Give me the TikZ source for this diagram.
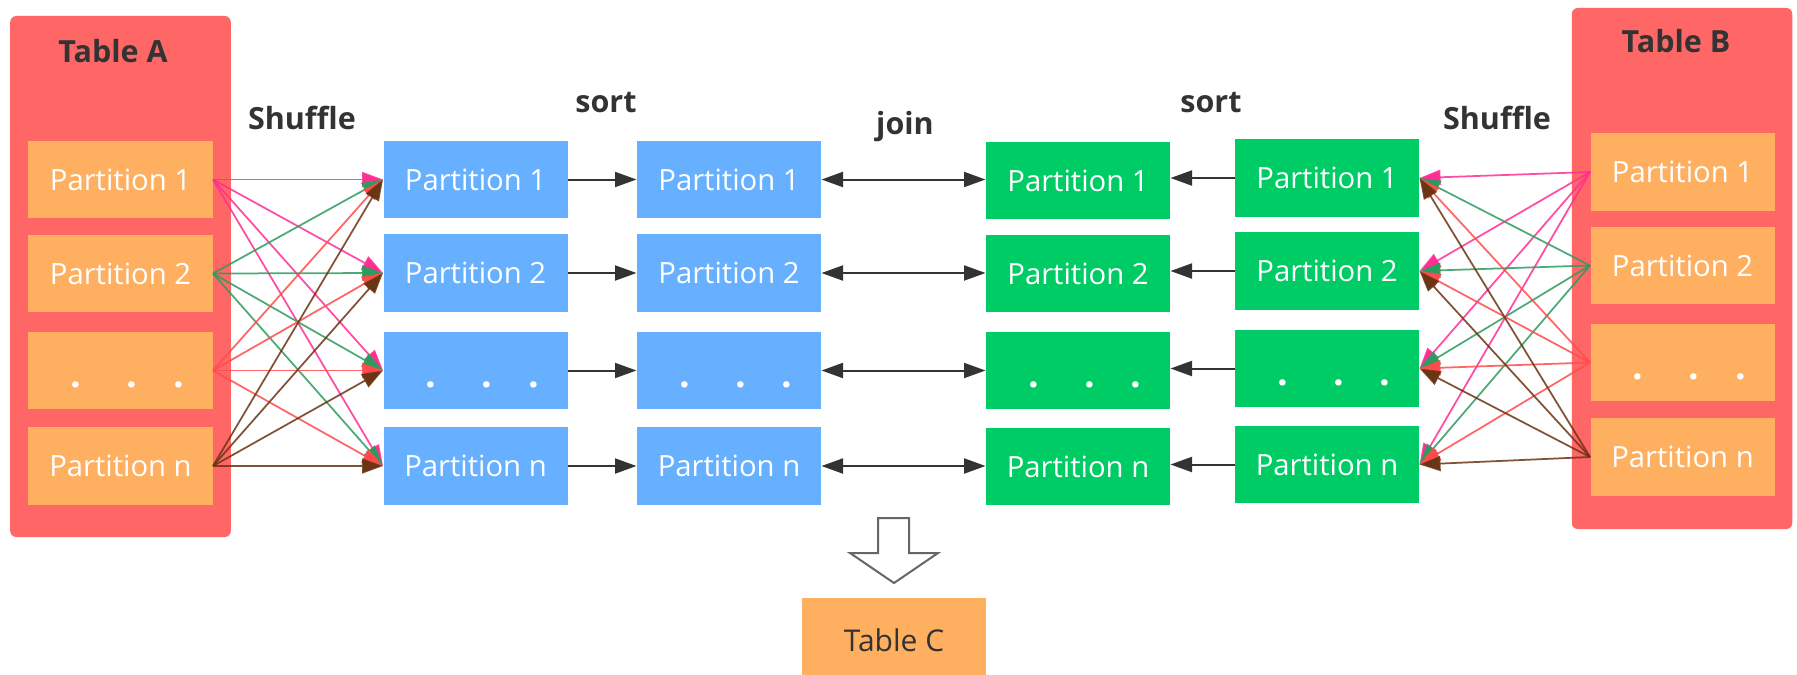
\documentclass[tikz,border=0pt]{standalone}
\usepackage{fontspec}
\setmainfont{Open Sans}
\usetikzlibrary{arrows.meta}

\definecolor{tablered}{HTML}{FF6666}
\definecolor{partorange}{HTML}{FFAF60}
\definecolor{partblue}{HTML}{66B0FF}
\definecolor{partgreen}{HTML}{00CC66}
\definecolor{labelgray}{HTML}{333333}
\definecolor{arrowgray}{HTML}{333333}
\definecolor{linkpink}{HTML}{FF2E93}
\definecolor{linkgreen}{HTML}{2E9B5E}
\definecolor{linkred}{HTML}{FF4B4B}
\definecolor{linkbrown}{HTML}{6B3413}

% three dots of the "..." partition rows
\newcommand{\partdots}{{\fontsize{15pt}{15pt}\selectfont\bfseries
  \raisebox{-6.8pt}{\hspace*{5.6pt}.\hspace{18pt}.\hspace{14.4pt}.}}}

\tikzset{
  tablebox/.style={fill=tablered, rounded corners=2.4pt, inner sep=0pt,
    minimum width=88.2pt, minimum height=208.4pt},
  partbox/.style={fill=#1, text=white, inner sep=0pt,
    minimum width=73.6pt, minimum height=31pt},
  dotsbox/.style={partbox=#1, text height=0pt, text depth=0pt},
  steplabel/.style={text=labelgray, font=\fontsize{12.2pt}{14pt}\selectfont\bfseries,
    anchor=base, inner sep=0pt},
  tablelabel/.style={steplabel},
  shuf/.style={draw=#1, line width=0.7pt, draw opacity=0.85,
    -{Triangle[length=8.4pt,width=6pt]}},
  proc/.style={draw=arrowgray, line width=0.8pt,
    -{Triangle[length=8.6pt,width=6pt]}},
  joinarrow/.style={draw=arrowgray, line width=0.8pt,
    {Triangle[length=8.6pt,width=6pt]}-{Triangle[length=8.6pt,width=6pt]}},
}

\begin{document}
\begin{tikzpicture}[x=0.4pt, y=-0.4pt, font=\fontsize{11.7pt}{14pt}\selectfont]
\useasboundingbox (0,0) rectangle (1797,674);
\fill[white] (0,0) rectangle (1797,674);
\clip (0,0) rectangle (1797,674);

% Table A with its partitions
\node[tablebox] (tA) at (120.5,276.5) {};
\node[tablelabel] (tAlabel) at (113,62) {Table A};
\node[partbox=partorange] (a1) at (120.5,179.5) {Partition 1};
\node[partbox=partorange] (a2) at (120.5,273.5) {Partition 2};
\node[dotsbox=partorange] (a3) at (120.5,370.5) {\partdots};
\node[partbox=partorange] (a4) at (120.5,466) {Partition n};

% Table B with its partitions
\node[tablebox] (tB) at (1682,268.5) {};
\node[tablelabel] (tBlabel) at (1676,52) {Table B};
\node[partbox=partorange] (p1) at (1682.5,172) {Partition 1};
\node[partbox=partorange] (p2) at (1682.5,265.5) {Partition 2};
\node[dotsbox=partorange] (p3) at (1682.5,362.5) {\partdots};
\node[partbox=partorange] (p4) at (1682.5,457) {Partition n};

% shuffled partitions of A, before and after sorting
\node[partbox=partblue] (b1) at (475.5,179.5) {Partition 1};
\node[partbox=partblue] (b2) at (475.5,273) {Partition 2};
\node[dotsbox=partblue] (b3) at (475.5,370.5) {\partdots};
\node[partbox=partblue] (b4) at (475.5,466) {Partition n};

\node[partbox=partblue] (c1) at (729,179.5) {Partition 1};
\node[partbox=partblue] (c2) at (729,273) {Partition 2};
\node[dotsbox=partblue] (c3) at (729,370.5) {\partdots};
\node[partbox=partblue] (c4) at (729,466) {Partition n};

% shuffled partitions of B, after and before sorting
\node[partbox=partgreen] (g1) at (1078,180.5) {Partition 1};
\node[partbox=partgreen] (g2) at (1078,273.5) {Partition 2};
\node[dotsbox=partgreen] (g3) at (1078,370.5) {\partdots};
\node[partbox=partgreen] (g4) at (1078,466.5) {Partition n};

\node[partbox=partgreen] (h1) at (1327,178) {Partition 1};
\node[partbox=partgreen] (h2) at (1327,271) {Partition 2};
\node[dotsbox=partgreen] (h3) at (1327,368.5) {\partdots};
\node[partbox=partgreen] (h4) at (1327,464.5) {Partition n};

% step labels
\node[steplabel] (shufA) at (302,129) {Shuffle};
\node[steplabel] (sortA) at (606,112) {sort};
\node[steplabel] (joinlbl) at (905,134) {join};
\node[steplabel] (sortB) at (1211,112) {sort};
\node[steplabel] (shufB) at (1497,129) {Shuffle};

% shuffle: every partition of a table feeds every shuffled partition
\foreach \s/\col in {1/linkpink,2/linkgreen,3/linkred,4/linkbrown}{
  \foreach \t in {1,...,4}{
    \draw[shuf=\col] (a\s.east) -- (b\t.west);
    \draw[shuf=\col] (p\s.west) -- (h\t.east);
  }
}

% sort and join
\foreach \i in {1,...,4}{
  \draw[proc] (b\i.east) -- (b\i.east -| c\i.west);
  \draw[joinarrow] (c\i.east) -- (c\i.east -| g\i.west);
  \draw[proc] (h\i.west) -- (h\i.west -| g\i.east);
}

% result
\draw[draw=gray!80!black, line width=0.8pt, fill=white, line join=miter]
  (878,518) -- (909,518) -- (909,553) -- (938,553) -- (894,583)
  -- (850,553) -- (878,553) -- cycle;
\node[partbox=partorange, text=labelgray, font=\fontsize{12pt}{14pt}\selectfont,
  minimum height=34.4pt] (tC) at (894,640.5) {Table C};
\end{tikzpicture}
\end{document}
